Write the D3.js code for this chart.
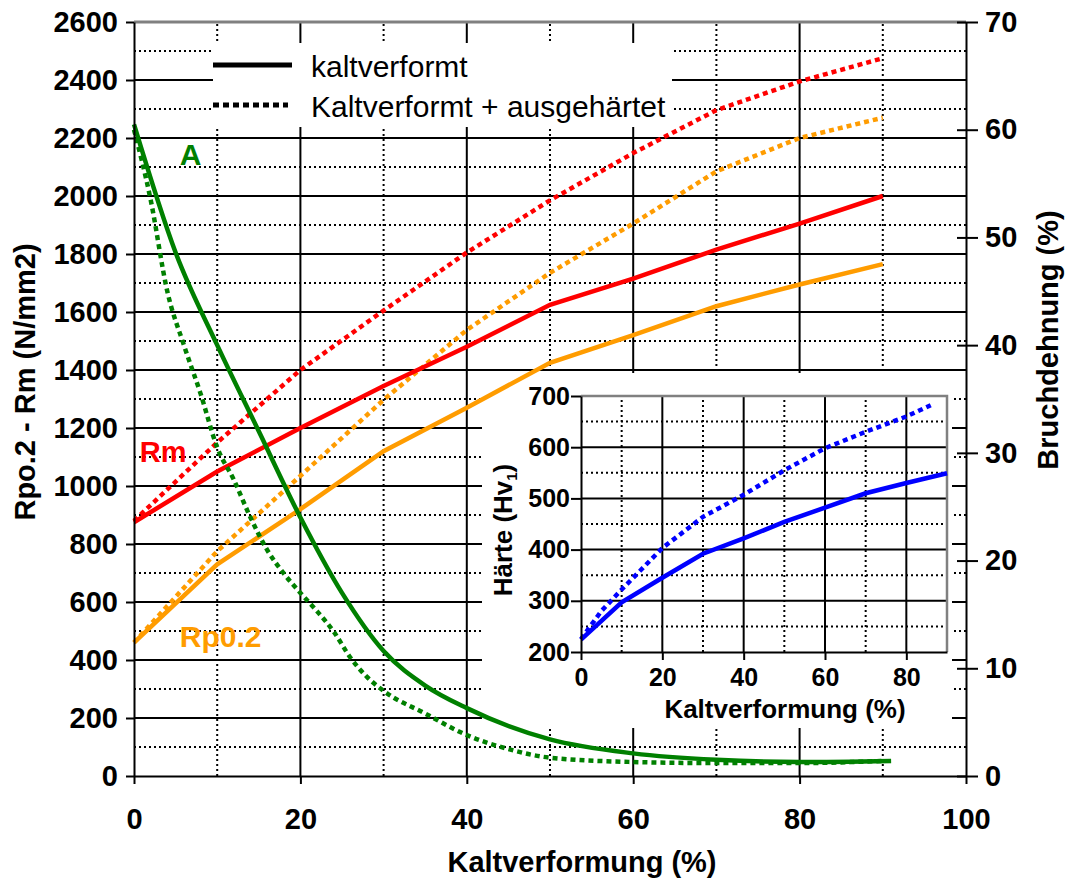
<!DOCTYPE html>
<html>
<head>
<meta charset="utf-8">
<script src="https://cdn.jsdelivr.net/npm/d3@7"></script>
<style>
  body { margin: 0; background: #fff; }
</style>
</head>
<body>
<svg id="chart" width="1066" height="878"></svg>
<script>
// --- data ---
// Kaltverformung (%) for Rm / Rp0.2
const pct = [0, 10, 20, 30, 40, 50, 60, 70, 80, 90];
const rmKalt = [875, 1050, 1200, 1345, 1480, 1625, 1715, 1815, 1905, 2000];
const rmAus  = [880, 1150, 1400, 1605, 1805, 1985, 2148, 2296, 2395, 2475];
const rpKalt = [460, 730, 920, 1120, 1270, 1425, 1520, 1620, 1695, 1765];
const rpAus  = [460, 775, 1035, 1297, 1538, 1735, 1905, 2085, 2200, 2270];

// Bruchdehnung A (%), right axis
const aKaltX = [0, 5, 10, 15, 20, 25, 30, 35, 40, 50, 60, 70, 80, 91];
const aKalt  = [60.5, 48.6, 40, 32, 24, 17, 11.6, 8.4, 6.3, 3.4, 2.1, 1.5, 1.3, 1.4];
const aAusX  = [0, 2, 4, 6, 8, 10, 12, 14, 16, 18, 20, 22, 24, 26, 28, 30, 35, 40, 45, 50, 60, 70, 80, 90];
const aAus   = [60, 53.5, 45, 40, 35.5, 30.5, 27.5, 24, 21, 18.8, 17, 15.3, 13.4, 11, 9.2, 7.9, 5.8, 3.8, 2.5, 1.7, 1.3, 1.2, 1.2, 1.4];

// Härte (Hv1), inset
const hvKaltX = [0, 10, 20, 30, 40, 50, 60, 70, 80, 90];
const hvKalt  = [224, 297, 345, 392, 422, 454, 482, 510, 530, 549];
const hvAusX  = [0, 5, 10, 20, 30, 40, 50, 60, 70, 80, 86];
const hvAus   = [225, 280, 322, 403, 464, 507, 555, 598, 630, 660, 682];

const xTicks = [0, 20, 40, 60, 80, 100];
const yLTicks = d3.range(0, 2601, 200);
const yRTicks = d3.range(0, 71, 10);
const insetXTicks = [0, 20, 40, 60, 80];
const insetYTicks = [200, 300, 400, 500, 600, 700];

const legendItems = ["kaltverformt", "Kaltverformt + ausgehärtet"];

const FONT = '"Liberation Sans", Arial, Helvetica, sans-serif';
const RED = "#ff0000", ORANGE = "#ff9c00", GREEN = "#008000", BLUE = "#0000ff";
const DOT = "5,4";

const svg = d3.select("#chart").attr("font-family", FONT);

const x = d3.scaleLinear([0, 100], [134, 966]);
const yL = d3.scaleLinear([0, 2600], [776, 22]);
const yR = d3.scaleLinear([0, 70], [776, 22]);

// grid
const grid = svg.append("g");
grid.selectAll("line.hminor").data(d3.range(100, 2600, 200)).join("line")
  .attr("x1", x(0)).attr("x2", x(100)).attr("y1", yL).attr("y2", yL)
  .attr("stroke", "#000").attr("stroke-width", 2).attr("stroke-dasharray", "2,3");
grid.selectAll("line.hmajor").data(d3.range(200, 2600, 200)).join("line")
  .attr("x1", x(0)).attr("x2", x(100)).attr("y1", yL).attr("y2", yL)
  .attr("stroke", "#000").attr("stroke-width", 2);
grid.selectAll("line.vminor").data([10, 30, 50, 70, 90]).join("line")
  .attr("x1", x).attr("x2", x).attr("y1", yL(0)).attr("y2", yL(2600))
  .attr("stroke", "#000").attr("stroke-width", 2).attr("stroke-dasharray", "2,3");
grid.selectAll("line.vmajor").data([20, 40, 60, 80]).join("line")
  .attr("x1", x).attr("x2", x).attr("y1", yL(0)).attr("y2", yL(2600))
  .attr("stroke", "#000").attr("stroke-width", 2);
grid.append("line")
  .attr("x1", x(0)).attr("x2", x(100)).attr("y1", yL(2600)).attr("y2", yL(2600))
  .attr("stroke", "#808080").attr("stroke-width", 3);

// legend box (hides grid)
const leg = svg.append("g");
leg.append("rect").attr("x", 213).attr("y", 43).attr("width", 459).attr("height", 84).attr("fill", "#fff");
leg.selectAll("line").data(legendItems).join("line")
  .attr("x1", 213).attr("x2", (d, i) => i ? 288 : 292)
  .attr("y1", (d, i) => 65 + i * 40).attr("y2", (d, i) => 65 + i * 40)
  .attr("stroke", "#000").attr("stroke-width", 5)
  .attr("stroke-dasharray", (d, i) => i ? "6,4" : null);
leg.selectAll("text").data(legendItems).join("text")
  .attr("x", 311).attr("y", (d, i) => 77 + i * 40)
  .attr("font-size", 30).text(d => d);

// inset background hides the main grid
svg.append("rect")
  .attr("x", 482).attr("y", 373).attr("width", 470).attr("height", 355).attr("fill", "#fff");

// main curves
function drawLine(g, xs, ys, sx, sy, color, dotted, curve) {
  const line = d3.line().x((d, i) => sx(xs[i])).y(d => sy(d)).curve(curve || d3.curveLinear);
  g.append("path").datum(ys).attr("d", line)
    .attr("fill", "none").attr("stroke", color).attr("stroke-width", 4.5)
    .attr("stroke-dasharray", dotted ? DOT : null);
}
const curves = svg.append("g");
drawLine(curves, pct, rmAus, x, yL, RED, true);
drawLine(curves, pct, rpAus, x, yL, ORANGE, true);
drawLine(curves, pct, rmKalt, x, yL, RED, false);
drawLine(curves, pct, rpKalt, x, yL, ORANGE, false);
drawLine(curves, aAusX, aAus, x, yR, GREEN, true, d3.curveMonotoneX);
drawLine(curves, aKaltX, aKalt, x, yR, GREEN, false, d3.curveMonotoneX);

// curve labels
svg.append("text").attr("x", x(5.5)).attr("y", yL(2107)).attr("fill", GREEN)
  .attr("font-size", 30).attr("font-weight", "bold").text("A");
svg.append("text").attr("x", x(0.7)).attr("y", yL(1083)).attr("fill", RED)
  .attr("font-size", 29).attr("font-weight", "bold").text("Rm");
svg.append("text").attr("x", x(5.5)).attr("y", yL(445)).attr("fill", ORANGE)
  .attr("font-size", 30).attr("font-weight", "bold").text("Rp0.2");

function styleAxis(g, fs) {
  g.attr("font-family", FONT);
  g.selectAll("path.domain").attr("stroke", "#000").attr("stroke-width", 2);
  g.selectAll(".tick line").attr("stroke", "#000").attr("stroke-width", 2);
  g.selectAll("text").attr("font-size", fs).attr("font-weight", "bold").attr("fill", "#000");
}

// main axes
const gx = svg.append("g").attr("transform", `translate(0,${yL(0)})`)
  .call(d3.axisBottom(x).tickValues(xTicks).tickFormat(d3.format("d")).tickSize(8).tickSizeOuter(0));
styleAxis(gx, 29);
gx.selectAll("text").attr("y", 32);

const gyl = svg.append("g").attr("transform", `translate(${x(0)},0)`)
  .call(d3.axisLeft(yL).tickValues(yLTicks).tickFormat(d3.format("d")).tickSize(8).tickPadding(8).tickSizeOuter(0));
styleAxis(gyl, 29);

const gyr = svg.append("g").attr("transform", `translate(${x(100)},0)`)
  .call(d3.axisRight(yR).tickValues(yRTicks).tickFormat(d3.format("d")).tickSize(12).tickPadding(7).tickSizeOuter(0));
styleAxis(gyr, 29);
gyr.selectAll(".tick line").attr("x1", -9);

// axis titles
svg.append("text").attr("x", 582).attr("y", 872).attr("text-anchor", "middle")
  .attr("font-size", 29).attr("font-weight", "bold").text("Kaltverformung (%)");
svg.append("text").attr("transform", "translate(35,382) rotate(-90)").attr("text-anchor", "middle")
  .attr("font-size", 29).attr("font-weight", "bold").text("Rpo.2 - Rm (N/mm2)");
svg.append("text").attr("transform", "translate(1058,340) rotate(-90)").attr("text-anchor", "middle")
  .attr("font-size", 29).attr("font-weight", "bold").text("Bruchdehnung (%)");

// --- inset: Härte ---
const ix = d3.scaleLinear([0, 90], [581, 947]);
const iy = d3.scaleLinear([200, 700], [652, 396]);
const inset = svg.append("g");

inset.selectAll("line.hminor").data([250, 350, 450, 550, 650]).join("line")
  .attr("x1", ix(0)).attr("x2", ix(90)).attr("y1", iy).attr("y2", iy)
  .attr("stroke", "#000").attr("stroke-width", 2).attr("stroke-dasharray", "2,3");
inset.selectAll("line.hmajor").data([300, 400, 500, 600]).join("line")
  .attr("x1", ix(0)).attr("x2", ix(90)).attr("y1", iy).attr("y2", iy)
  .attr("stroke", "#000").attr("stroke-width", 2);
inset.selectAll("line.vminor").data([10, 30, 50, 70]).join("line")
  .attr("x1", ix).attr("x2", ix).attr("y1", iy(200)).attr("y2", iy(700))
  .attr("stroke", "#000").attr("stroke-width", 2).attr("stroke-dasharray", "2,3");
inset.selectAll("line.vmajor").data([20, 40, 60, 80]).join("line")
  .attr("x1", ix).attr("x2", ix).attr("y1", iy(200)).attr("y2", iy(700))
  .attr("stroke", "#000").attr("stroke-width", 2);
inset.append("path")
  .attr("d", `M${ix(0)},${iy(700)}H${ix(90)}V${iy(200)}`)
  .attr("fill", "none").attr("stroke", "#808080").attr("stroke-width", 2.5);

drawLine(inset, hvAusX, hvAus, ix, iy, BLUE, true);
drawLine(inset, hvKaltX, hvKalt, ix, iy, BLUE, false);

const igx = inset.append("g").attr("transform", `translate(0,${iy(200)})`)
  .call(d3.axisBottom(ix).tickValues(insetXTicks).tickSize(8).tickSizeOuter(0));
styleAxis(igx, 25);
igx.selectAll("text").attr("y", 16);

const igy = inset.append("g").attr("transform", `translate(${ix(0)},0)`)
  .call(d3.axisLeft(iy).tickValues(insetYTicks).tickSize(10).tickPadding(1).tickSizeOuter(0));
styleAxis(igy, 25);

inset.append("text").attr("x", 785).attr("y", 718).attr("text-anchor", "middle")
  .attr("font-size", 26).attr("font-weight", "bold").text("Kaltverformung (%)");
const ht = inset.append("text").attr("transform", "translate(512,530) rotate(-90)")
  .attr("text-anchor", "middle").attr("font-size", 26).attr("font-weight", "bold");
ht.append("tspan").text("Härte (Hv");
ht.append("tspan").attr("font-size", 15).attr("dy", 5).text("1");
ht.append("tspan").attr("dy", -5).text(")");
</script>
</body>
</html>
